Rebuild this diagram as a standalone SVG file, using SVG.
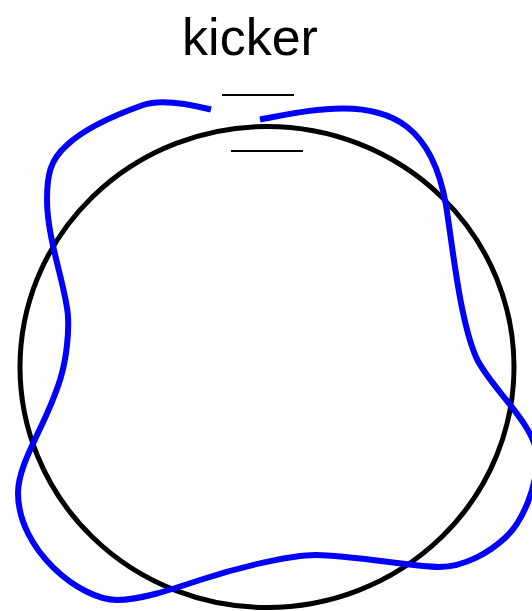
<svg xmlns="http://www.w3.org/2000/svg" width="532" height="611" viewBox="0 0 532 611">
<style>
.title{font-family:"Liberation Sans",Arial,sans-serif;font-size:52px;fill:#000}
.tick{stroke:#000;stroke-width:2;fill:none}
.ring{stroke:#000;stroke-width:5;fill:none}
.wave{stroke:#0000ff;stroke-width:6;fill:none;stroke-linejoin:round}
</style>
<rect width="532" height="611" fill="#fff"/>
<g id="title"><text class="title" x="250" y="55" text-anchor="middle">kicker</text></g>
<g id="ticks">
<line class="tick" x1="222" y1="95" x2="294" y2="95"/>
<line class="tick" x1="231" y1="151" x2="303" y2="151"/>
</g>
<g id="ring"><ellipse class="ring" cx="267" cy="367" rx="247" ry="240.5"/></g>
<g id="wave">
<path class="wave" d="M260,119.5 C290,114 315,108.5 343,108.5 C390,108.5 432,125 446,205 C453,250 460,320 476,357 C489,387 537,425 537,458 C537,488 522,522 506,537 C490,552 465,567 439,567 C415,567 350,555 316,555 C290,555 240,567 200,580 C170,590 140,600 117,600 C80,600 18,550 18,493 C18,460 50,420 62,373 C66,358 69,335 68,317 C67,290 47,240 47,200 C47,175 50,160 67,145 C85,128 115,115 143,105 C160,99 185,103 211,109.5"/>
</g>
</svg>
